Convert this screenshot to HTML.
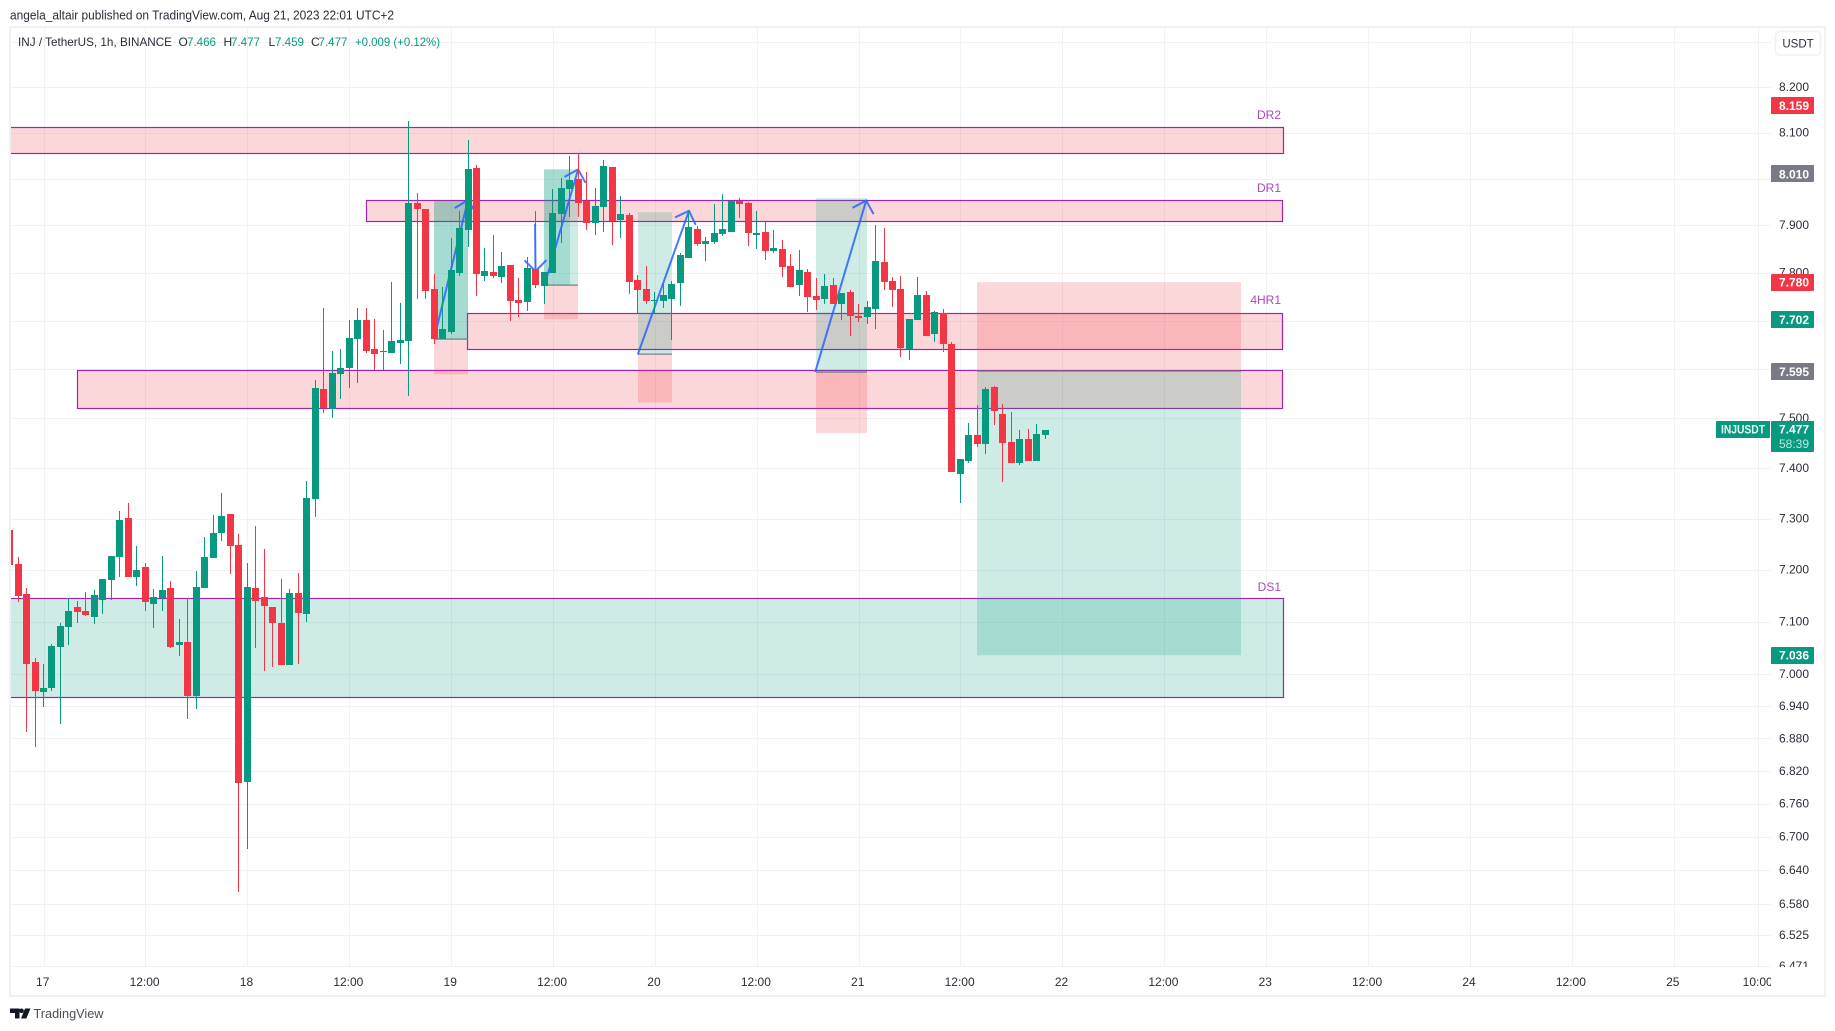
<!DOCTYPE html>
<html lang="en">
<head>
<meta charset="utf-8">
<title>INJ / TetherUS 1h chart</title>
<style>
html,body{margin:0;padding:0;background:#fff;width:1835px;height:1031px;overflow:hidden}
svg{display:block;font-family:"Liberation Sans",sans-serif}
.crisp{shape-rendering:crispEdges}
</style>
</head>
<body>
<svg id="chart" xmlns="http://www.w3.org/2000/svg" width="1835" height="1031" viewBox="0 0 1835 1031">
  <defs>
    <clipPath id="pane-clip"><rect x="10" y="28" width="1761" height="939"/></clipPath>
    <clipPath id="axis-clip"><rect x="1771" y="28" width="53" height="939"/></clipPath>
    <clipPath id="time-clip"><rect x="10" y="967" width="1761" height="28"/></clipPath>
  </defs>
  <text x="10" y="19.5" font-size="12.5" fill="#2a2e39" textLength="384" lengthAdjust="spacingAndGlyphs">angela_altair published on TradingView.com, Aug 21, 2023 22:01 UTC+2</text>
  <g id="grid" class="crisp"></g>
  <g clip-path="url(#pane-clip)">
    <g id="zones"></g>
    <g id="tools"></g>
    <g id="arrows"></g>
    <g id="candles" class="crisp"></g>
  </g>
  <g font-size="12" fill="#9c27b0" opacity="0.85" text-anchor="end">
    <text x="1281" y="119">DR2</text>
    <text x="1281" y="192">DR1</text>
    <text x="1281" y="304">4HR1</text>
    <text x="1281" y="591">DS1</text>
  </g>
  <g font-size="12" fill="#089981">
    <text x="18" y="46" fill="#2a2e39" textLength="154" lengthAdjust="spacingAndGlyphs">INJ / TetherUS, 1h, BINANCE</text>
    <text x="178.5" y="46" fill="#2a2e39">O</text>
    <text x="187" y="46" textLength="29" lengthAdjust="spacingAndGlyphs">7.466</text>
    <text x="223.5" y="46" fill="#2a2e39">H</text>
    <text x="231" y="46" textLength="29" lengthAdjust="spacingAndGlyphs">7.477</text>
    <text x="268.5" y="46" fill="#2a2e39">L</text>
    <text x="275" y="46" textLength="29" lengthAdjust="spacingAndGlyphs">7.459</text>
    <text x="311" y="46" fill="#2a2e39">C</text>
    <text x="318.5" y="46" textLength="29" lengthAdjust="spacingAndGlyphs">7.477</text>
    <text x="355" y="46" textLength="85" lengthAdjust="spacingAndGlyphs">+0.009 (+0.12%)</text>
  </g>
  <g id="price-axis" clip-path="url(#axis-clip)" font-size="12" fill="#2a2e39"></g>
  <g id="time-axis" clip-path="url(#time-clip)" font-size="12" fill="#2a2e39" text-anchor="middle"></g>
  <g id="price-tags" font-size="12" font-weight="bold" fill="#fff"></g>
  <g>
    <rect class="crisp" x="1716" y="421" width="54" height="17" rx="1" fill="#089981"/>
    <text x="1743" y="433.5" font-size="11.5" font-weight="bold" fill="#fff" text-anchor="middle" opacity="0.9" textLength="44" lengthAdjust="spacingAndGlyphs">INJUSDT</text>
    <rect class="crisp" x="1771" y="421" width="43" height="31" rx="1" fill="#089981"/>
    <text x="1794" y="433.5" font-size="12" font-weight="bold" fill="#fff" text-anchor="middle">7.477</text>
    <text x="1794" y="448" font-size="12" fill="#fff" fill-opacity="0.75" text-anchor="middle">58:39</text>
  </g>
  <rect class="crisp" x="10" y="27" width="1815" height="969" fill="none" stroke="#f0f0f5" stroke-width="2"/>
  <g>
    <rect x="1775.5" y="31.5" width="45" height="23.5" rx="4" fill="#fff" stroke="#f0f0f5" stroke-width="1.6"/>
    <text x="1798" y="47.5" font-size="11.5" fill="#2a2e39" text-anchor="middle">USDT</text>
  </g>
  <g>
    <path fill="#131722" d="M10 1008.5h9.5v10h-4.5v-5.5h-5zM21.5 1008.5a2.3 2.3 0 1 1-.01 0zM25 1008.5h5.5l-4.2 10h-5.3z"/>
    <text x="33.5" y="1018" font-size="13" fill="#4a4d57" textLength="70" lengthAdjust="spacingAndGlyphs">TradingView</text>
  </g>
</svg>
<script>
/* candle series: hourly bars, index 0 = firstHour hours relative to Aug 17 00:00 */
const firstHour = -4;
const opens = [7.278,7.211,7.153,7.023,6.967,6.974,7.052,7.090,7.128,7.121,7.109,7.142,7.180,7.225,7.301,7.186,7.205,7.134,7.146,7.165,7.056,7.061,6.959,7.165,7.223,7.272,7.309,7.248,6.800,7.165,7.147,7.128,7.098,7.018,7.155,7.115,7.339,7.559,7.519,7.590,7.602,7.662,7.701,7.641,7.637,7.633,7.654,7.658,7.948,7.935,7.766,7.662,7.676,7.799,7.890,8.023,7.793,7.801,7.791,7.816,7.743,7.739,7.808,7.772,7.799,7.924,7.978,7.999,7.952,7.905,7.939,8.025,7.911,7.922,7.785,7.766,7.741,7.741,7.745,7.778,7.831,7.892,7.860,7.865,7.882,7.886,7.952,7.948,7.879,7.886,7.846,7.850,7.814,7.774,7.801,7.751,7.745,7.774,7.734,7.759,7.709,7.707,7.724,7.822,7.782,7.766,7.641,7.701,7.753,7.672,7.716,7.652,7.388,7.414,7.466,7.448,7.564,7.508,7.452,7.410,7.458,7.414,7.466];
const highs = [7.278,7.225,7.165,7.031,7.020,7.058,7.097,7.145,7.140,7.157,7.161,7.182,7.227,7.315,7.330,7.246,7.213,7.163,7.227,7.178,7.105,7.146,7.198,7.264,7.307,7.350,7.309,7.270,7.213,7.286,7.240,7.128,7.182,7.163,7.194,7.374,7.578,7.726,7.637,7.641,7.701,7.726,7.726,7.703,7.680,7.780,7.736,8.125,7.969,7.935,7.797,7.770,7.873,7.931,8.083,8.029,7.852,7.879,7.844,7.816,7.789,7.833,7.931,7.801,7.978,8.001,8.049,8.055,8.014,7.980,8.040,8.025,7.963,7.926,7.795,7.814,7.759,7.778,7.782,7.842,7.931,7.898,7.875,7.946,7.967,7.952,7.958,7.950,7.931,7.907,7.890,7.869,7.839,7.848,7.808,7.789,7.797,7.789,7.757,7.764,7.734,7.741,7.901,7.894,7.791,7.793,7.703,7.791,7.762,7.720,7.724,7.656,7.418,7.490,7.527,7.564,7.566,7.529,7.513,7.476,7.478,7.488,7.477];
const lows = [7.209,7.137,6.892,6.865,6.939,6.969,6.907,7.056,7.098,7.111,7.096,7.115,7.142,7.186,7.186,7.169,7.121,7.088,7.121,7.050,7.035,6.916,6.935,7.165,7.223,7.256,7.192,6.602,6.679,7.050,7.007,7.014,7.017,7.017,7.020,7.099,7.303,7.511,7.500,7.539,7.561,7.572,7.633,7.598,7.598,7.633,7.610,7.545,7.745,7.745,7.652,7.662,7.672,7.793,7.854,7.751,7.782,7.789,7.778,7.699,7.707,7.720,7.768,7.734,7.799,7.862,7.918,7.918,7.890,7.879,7.886,7.858,7.873,7.755,7.716,7.734,7.716,7.726,7.660,7.730,7.831,7.856,7.825,7.860,7.877,7.886,7.916,7.856,7.850,7.827,7.841,7.791,7.770,7.751,7.718,7.722,7.734,7.734,7.701,7.668,7.697,7.693,7.682,7.764,7.728,7.625,7.619,7.701,7.668,7.656,7.635,7.392,7.331,7.410,7.442,7.428,7.487,7.372,7.410,7.406,7.414,7.414,7.459];
const closes = [7.209,7.149,7.020,6.969,6.974,7.054,7.092,7.121,7.119,7.113,7.151,7.182,7.227,7.297,7.186,7.200,7.138,7.147,7.161,7.052,7.061,6.959,7.167,7.225,7.272,7.305,7.246,6.798,7.167,7.139,7.130,7.098,7.018,7.155,7.117,7.341,7.561,7.521,7.592,7.602,7.664,7.701,7.637,7.631,7.635,7.658,7.660,7.948,7.935,7.762,7.662,7.682,7.805,7.894,8.021,7.797,7.803,7.793,7.814,7.741,7.736,7.810,7.774,7.801,7.926,7.980,7.997,7.948,7.905,7.941,8.027,7.909,7.924,7.780,7.764,7.741,7.743,7.753,7.776,7.837,7.896,7.860,7.867,7.884,7.892,7.952,7.946,7.884,7.884,7.846,7.852,7.812,7.770,7.805,7.749,7.743,7.772,7.734,7.757,7.709,7.705,7.728,7.825,7.780,7.764,7.643,7.703,7.753,7.668,7.718,7.652,7.392,7.418,7.466,7.448,7.559,7.515,7.450,7.410,7.458,7.414,7.468,7.477];

/* axis content */
const gridPrices = [8.3,8.2,8.1,8.0,7.9,7.8,7.7,7.6,7.5,7.4,7.3,7.2,7.1,7.0,6.94,6.88,6.82,6.76,6.70,6.64,6.58,6.525,6.471];
const priceTickLabels = ['8.200','8.100','7.900','7.800','7.500','7.400','7.300','7.200','7.100','7.000','6.940','6.880','6.820','6.760','6.700','6.640','6.580','6.525','6.471'];
const timeTickHours = [0,12,24,36,48,60,72,84,96,108,120,132,144,156,168,180,192,202];
const timeTickLabels = ['17','12:00','18','12:00','19','12:00','20','12:00','21','12:00','22','12:00','23','12:00','24','12:00','25','10:00'];

/* price tags on the axis */
const tagPrices = [8.159,8.010,7.780,7.702,7.595,7.036];
const tagKinds = ['loss','neutral','loss','gain','neutral','gain'];

/* zones: rectangles in time and price */
const zoneNames = ['dr2','dr1','4hr1','mid-supply','ds1'];
const zoneStartHours = [-10,38,49.9,4,-10];
const zoneEndHours = [145.9,145.9,145.9,145.9,145.9];
const zoneTopPrices = [8.111,7.954,7.715,7.597,7.145];
const zoneBottomPrices = [8.055,7.909,7.641,7.520,6.957];
const zoneKinds = ['loss','loss','loss','loss','gain'];

/* position tools */
const toolStartHours = [46,46,59,59,70,91,110];
const toolEndHours = [50,50,63,62,74,97,141];
const toolEntryPrices = [7.662,7.662,7.773,7.773,7.630,7.594,7.595];
const toolTargetPrices = [7.952,7.952,8.020,8.020,7.928,7.958,7.036];
const toolStopPrices = [7.589,7.662,7.703,7.773,7.532,7.470,7.780];

/* arrows */
const arrowStartHours = [46,57.9,59,70,90.9];
const arrowEndHours = [50,57.95,62.97,76.03,96.9];
const arrowStartPrices = [7.662,7.903,7.773,7.630,7.594];
const arrowEndPrices = [7.954,7.803,8.020,7.931,7.953];

const NS = 'http://www.w3.org/2000/svg';
const GREEN = '#089981', RED = '#f23645', GRAY = '#787b86', GRID = '#f2f2f4', PURPLE = '#9c27b0';
const xAt = h => 43.5 + 8.49 * h;
const yAt = p => 674.3 - 3712 * Math.log(p / 7);
function mk(parent, tag, attrs) {
  const el = document.createElementNS(NS, tag);
  for (const k in attrs) el.setAttribute(k, attrs[k]);
  parent.appendChild(el);
  return el;
}
const kindFill = k => k === 'gain' ? GREEN : k === 'loss' ? RED : GRAY;

/* grid */
const gridG = document.getElementById('grid');
gridPrices.forEach(p => {
  const line = mk(gridG, 'rect', {x: 10, y: Math.round(yAt(p)), width: 1761, height: 1, fill: GRID});
  
  
});
timeTickHours.forEach(h => {
  const line = mk(gridG, 'rect', {x: Math.round(xAt(h)), y: 28, width: 1, height: 939, fill: GRID});
  
  
});

/* zones */
const zonesG = document.getElementById('zones');
zoneNames.forEach((name, i) => {
  const x0 = xAt(zoneStartHours[i]), x1 = xAt(zoneEndHours[i]);
  const y0 = yAt(zoneTopPrices[i]), y1 = yAt(zoneBottomPrices[i]);
  const r = mk(zonesG, 'rect', {
    x: Math.round(x0) + .5, y: Math.round(y0) + .5, width: Math.round(x1 - x0), height: Math.round(y1 - y0),
    fill: zoneKinds[i] === 'gain' ? 'rgba(8,153,129,.2)' : 'rgba(242,54,69,.2)',
    stroke: PURPLE, 'stroke-width': 1.2
  });
  
  
});

/* position tools */
const toolsG = document.getElementById('tools');
toolStartHours.forEach((sh, i) => {
  const x0 = Math.round(xAt(sh)), x1 = Math.round(xAt(toolEndHours[i]));
  const e = yAt(toolEntryPrices[i]), t = yAt(toolTargetPrices[i]), s = yAt(toolStopPrices[i]);
  const g = mk(toolsG, 'rect', {x: x0, y: Math.min(e, t), width: x1 - x0, height: Math.abs(e - t), fill: 'rgba(8,153,129,.2)'});
  
  
  if (Math.abs(s - e) > 0.5) {
    const r = mk(toolsG, 'rect', {x: x0, y: Math.min(e, s), width: x1 - x0, height: Math.abs(e - s), fill: 'rgba(242,54,69,.2)'});
    
    
    const l = mk(toolsG, 'rect', {x: x0, y: Math.round(e) - .5, width: x1 - x0, height: 1.2, fill: GRAY});
    
    
  }
});

/* arrows */
const arrowsG = document.getElementById('arrows');
arrowStartHours.forEach((sh, i) => {
  const x0 = xAt(sh), y0 = yAt(arrowStartPrices[i]);
  const x1 = xAt(arrowEndHours[i]), y1 = yAt(arrowEndPrices[i]);
  const len = Math.hypot(x1 - x0, y1 - y0), ux = (x0 - x1) / len, uy = (y0 - y1) / len;
  const c = Math.SQRT1_2, hd = 15.5;
  const bx1 = x1 + hd * (ux * c - uy * c), by1 = y1 + hd * (ux * c + uy * c);
  const bx2 = x1 + hd * (ux * c + uy * c), by2 = y1 + hd * (-ux * c + uy * c);
  const p = mk(arrowsG, 'path', {
    d: 'M' + x0 + ' ' + y0 + 'L' + x1 + ' ' + y1 + 'M' + bx1 + ' ' + by1 + 'L' + x1 + ' ' + y1 + 'L' + bx2 + ' ' + by2,
    fill: 'none', stroke: '#2962ff', 'stroke-width': 2, 'stroke-opacity': .85
  });
  
  
});

/* candles */
const candlesG = document.getElementById('candles');
opens.forEach((o, i) => {
  const c = closes[i], up = c >= o, col = up ? GREEN : RED;
  const left = Math.round(xAt(firstHour + i) - 3.5);
  const g = mk(candlesG, 'g', {});
  
  
  const yh = Math.round(yAt(highs[i])), yl = Math.round(yAt(lows[i]));
  const wick = mk(g, 'rect', {x: left + 3, y: yh, width: 1, height: Math.max(1, yl - yh), fill: col});
  
  
  const yt = Math.round(yAt(Math.max(o, c))), yb = Math.round(yAt(Math.min(o, c)));
  const body = mk(g, 'rect', {x: left, y: yt, width: 7, height: Math.max(1, yb - yt), fill: col});
  
  
});

/* price axis labels */
const axisG = document.getElementById('price-axis');
priceTickLabels.forEach(label => {
  const t = mk(axisG, 'text', {x: 1779, y: yAt(parseFloat(label)) + 3.8, textLength: 30, lengthAdjust: 'spacingAndGlyphs'});
  
  
  t.textContent = label;
});

/* time axis labels */
const timeG = document.getElementById('time-axis');
timeTickLabels.forEach((label, i) => {
  const t = mk(timeG, 'text', {x: xAt(timeTickHours[i]) - 0.8, y: 986});
  
  
  t.textContent = label;
});

/* price tags */
const tagsG = document.getElementById('price-tags');
tagPrices.forEach((p, i) => {
  const y = yAt(p);
  const r = mk(tagsG, 'rect', {class: 'crisp', x: 1771, y: Math.round(y - 8.5), width: 43, height: 17, rx: 1, fill: kindFill(tagKinds[i])});
  
  
  const t = mk(tagsG, 'text', {x: 1794, y: y + 4.3, 'text-anchor': 'middle'});
  
  
  t.textContent = p.toFixed(3);
});
</script>
</body>
</html>
